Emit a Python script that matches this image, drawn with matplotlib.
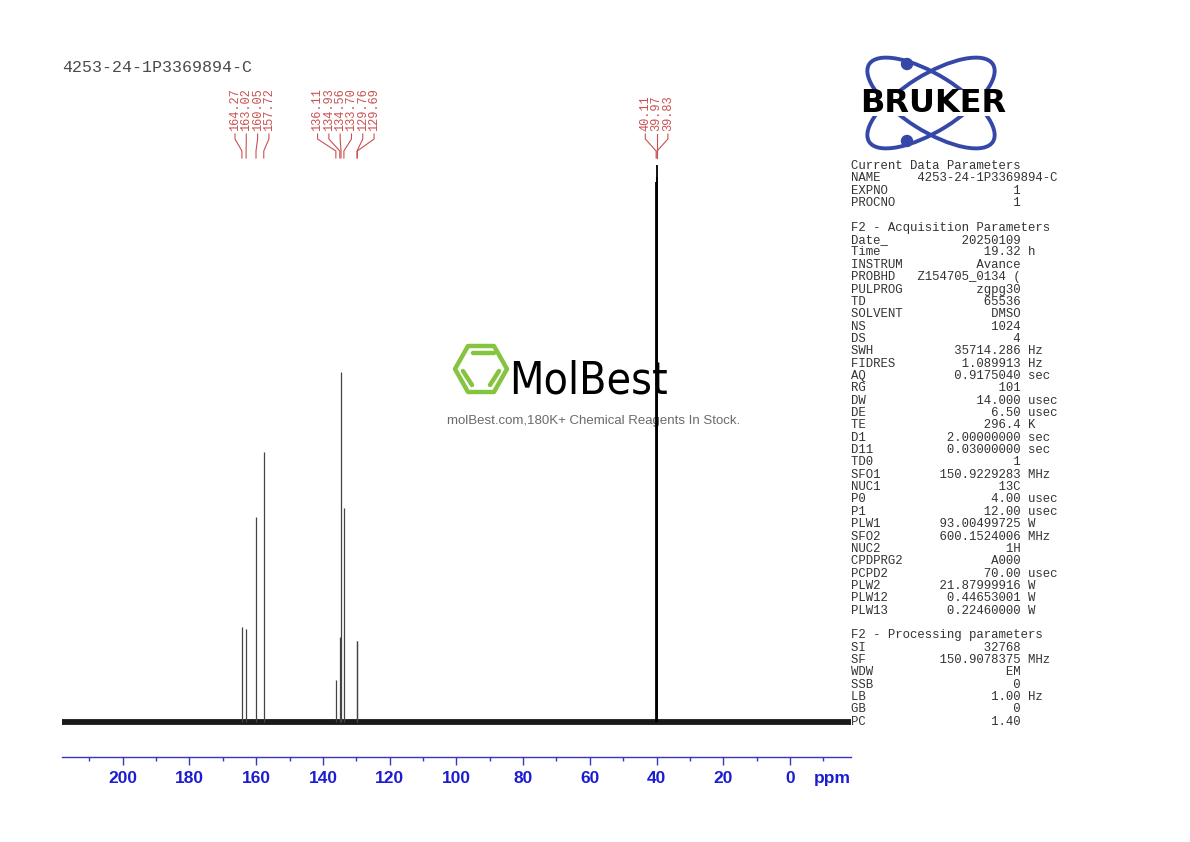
import matplotlib
matplotlib.use('Agg')
import matplotlib.pyplot as plt
from matplotlib.patches import Ellipse, Circle, Polygon
from matplotlib.ticker import MultipleLocator
import numpy as np

W, H = 1190, 842

# Sample name
title = "4253-24-1P3369894-C"

# Peak list (ppm) and stick heights
peak_ppm = [164.27, 163.02, 160.05, 157.72, 136.11, 134.93, 134.56,
            133.70, 129.76, 129.69, 40.11, 39.97, 39.83]
peak_height = [95, 93, 205, 270, 42, 85, 350, 214, 81, 81, 540, 557, 545]

# x axis
ppm_left, ppm_right = 218.2, -18.3
tick_labels = [200, 180, 160, 140, 120, 100, 80, 60, 40, 20, 0]

# Parameter panel
current_params = [("NAME", "4253-24-1P3369894-C", ""),
                  ("EXPNO", "1", ""),
                  ("PROCNO", "1", "")]
acq_params = [("Date_", "20250109", ""), ("Time", "19.32", "h"),
              ("INSTRUM", "Avance", ""), ("PROBHD", "Z154705_0134 (", ""),
              ("PULPROG", "zgpg30", ""), ("TD", "65536", ""),
              ("SOLVENT", "DMSO", ""), ("NS", "1024", ""), ("DS", "4", ""),
              ("SWH", "35714.286", "Hz"), ("FIDRES", "1.089913", "Hz"),
              ("AQ", "0.9175040", "sec"), ("RG", "101", ""),
              ("DW", "14.000", "usec"), ("DE", "6.50", "usec"),
              ("TE", "296.4", "K"), ("D1", "2.00000000", "sec"),
              ("D11", "0.03000000", "sec"), ("TD0", "1", ""),
              ("SFO1", "150.9229283", "MHz"), ("NUC1", "13C", ""),
              ("P0", "4.00", "usec"), ("P1", "12.00", "usec"),
              ("PLW1", "93.00499725", "W"), ("SFO2", "600.1524006", "MHz"),
              ("NUC2", "1H", ""), ("CPDPRG2", "A000", ""),
              ("PCPD2", "70.00", "usec"), ("PLW2", "21.87999916", "W"),
              ("PLW12", "0.44653001", "W"), ("PLW13", "0.22460000", "W")]
proc_params = [("SI", "32768", ""), ("SF", "150.9078375", "MHz"),
               ("WDW", "EM", ""), ("SSB", "0", ""), ("LB", "1.00", "Hz"),
               ("GB", "0", ""), ("PC", "1.40", "")]

fig = plt.figure(figsize=(W / 100, H / 100), dpi=100)
fig.patch.set_facecolor('white')

# overlay axes in pixel units (origin top-left) for logos and text
ov = fig.add_axes([0, 0, 1, 1], zorder=1)
ov.set_xlim(0, W)
ov.set_ylim(H, 0)
ov.axis('off')

# spectrum axes
ax = fig.add_axes([62 / W, 1 - 757 / H, (851 - 62) / W, (757 - 157) / H], zorder=2)
ax.patch.set_alpha(0)
ax.set_xlim(ppm_left, ppm_right)
ax.set_ylim(-35, 565)

axis_blue = '#3535c8'
label_blue = '#1c1cd2'

# baseline band and peak sticks
ax.plot([ppm_left, ppm_right], [0, 0], color='#1a1a1a', lw=4.2,
        solid_capstyle='butt', zorder=2)
widths = [1.3 if p < 45 else 0.9 for p in peak_ppm]
colors = ['black' if p < 45 else '#444444' for p in peak_ppm]
ax.vlines(peak_ppm, 0, peak_height, colors=colors, linewidths=widths, zorder=3)

for s in ['left', 'right', 'top']:
    ax.spines[s].set_visible(False)
ax.spines['bottom'].set_color(axis_blue)
ax.spines['bottom'].set_linewidth(1.0)
ax.set_yticks([])
ax.xaxis.set_major_locator(MultipleLocator(20))
ax.xaxis.set_minor_locator(MultipleLocator(10))
ax.set_xticks(tick_labels)
ax.set_xticklabels([str(t) for t in tick_labels])
ax.tick_params(axis='x', which='major', length=6, width=1.0, color=axis_blue,
               labelcolor=label_blue, labelsize=12.5, pad=4)
ax.tick_params(axis='x', which='minor', length=3, width=1.0, color=axis_blue)
for lab in ax.get_xticklabels():
    lab.set_fontfamily('Liberation Sans')
    lab.set_fontweight('bold')
ov.text(832, 779, 'ppm', ha='center', va='center', color=label_blue,
        fontsize=12.5, fontweight='bold', family='Liberation Sans')

# title
ov.text(62, 68, title, ha='left', va='center', family='Liberation Mono',
        fontsize=12, color='#4a4a4a')

# peak labels with connectors, spread inside each cluster
peak_red = '#c9504f'
fig.canvas.draw()
peak_px = [ax.transData.transform((p, 0))[0] for p in peak_ppm]
clusters = [[0]]
for i in range(1, len(peak_ppm)):
    if peak_ppm[i - 1] - peak_ppm[i] > 10:
        clusters.append([i])
    else:
        clusters[-1].append(i)
spacing = 11.3
for cl in clusters:
    centre = np.mean([peak_px[i] for i in cl])
    n = len(cl)
    for k, i in enumerate(cl):
        lx = centre + (k - (n - 1) / 2) * spacing
        px = peak_px[i]
        ov.plot([lx, lx, px, px], [134, 139, 151, 158], color=peak_red, lw=0.8)
        ov.text(lx, 131, f"{peak_ppm[i]:.2f}", rotation=90, ha='center',
                va='bottom', family='Liberation Mono', fontsize=8.6,
                color=peak_red)

# parameter panel
line_h = 12.35
y0 = 166
rows = ["Current Data Parameters"]
rows += [f"{a:<9}{b:>14} {c}".rstrip() for a, b, c in current_params]
rows += ["", "F2 - Acquisition Parameters"]
rows += [f"{a:<9}{b:>14} {c}".rstrip() for a, b, c in acq_params]
rows += ["", "F2 - Processing parameters"]
rows += [f"{a:<9}{b:>14} {c}".rstrip() for a, b, c in proc_params]
for i, txt in enumerate(rows):
    if txt:
        ov.text(851, y0 + i * line_h, txt, ha='left', va='center',
                family='Liberation Mono', fontsize=8.9, color='#333333')

# Bruker logo
orbit = '#3548a8'
for ang in (32, -32):
    ov.add_patch(Ellipse((931, 103), 146, 56, angle=ang, fill=False,
                         edgecolor=orbit, lw=2.8))
ov.add_patch(Circle((907, 64), 5.5, color=orbit))
ov.add_patch(Circle((907, 141), 5.5, color=orbit))
ov.text(933, 103, 'BRUKER', ha='center', va='center', family='DejaVu Sans',
        fontweight='bold', fontsize=23, color='black', zorder=5,
        bbox=dict(facecolor='white', edgecolor='none', pad=-1.5))

# MolBest watermark
green = '#86c440'
cx, cy, r, hh = 481, 369, 26, 23
hexpts = [(cx + r, cy), (cx + r / 2, cy - hh), (cx - r / 2, cy - hh),
          (cx - r, cy), (cx - r / 2, cy + hh), (cx + r / 2, cy + hh)]
ov.add_patch(Polygon(hexpts, closed=True, fill=False, edgecolor=green,
                     lw=3.2, joinstyle='round'))
ov.plot([473, 494], [352.5, 352.5], color=green, lw=3.2, solid_capstyle='round')
ov.plot([463, 472], [371, 385], color=green, lw=3.2, solid_capstyle='round')
ov.plot([499, 490], [371, 385], color=green, lw=3.2, solid_capstyle='round')
ov.text(509, 394, 'MolBest', ha='left', va='baseline', family='DejaVu Sans',
        fontstretch='condensed', fontsize=32, color='black')
ov.text(594, 421, 'molBest.com,180K+ Chemical Reagents In Stock.',
        ha='center', va='center', family='Liberation Sans', fontsize=9.5,
        color='#6a6a6a')

fig.savefig('out.png', dpi=100, facecolor='white')
